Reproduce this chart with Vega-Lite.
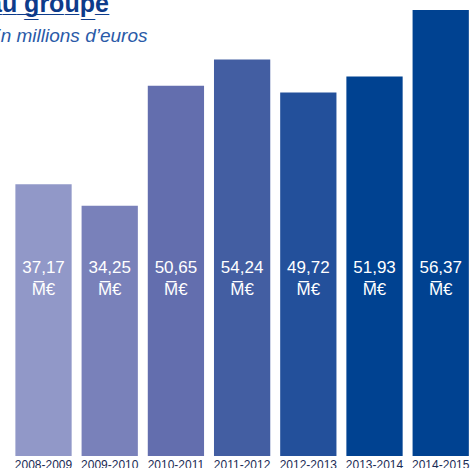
{
  "$schema": "https://vega.github.io/schema/vega-lite/v6.json",
  "width": 472,
  "height": 456,
  "autosize": {"type": "none"},
  "padding": {"left": 0, "top": 0, "right": 0, "bottom": 12},
  "background": "white",
  "title": {
    "text": "a̲u̲ ̲g̲r̲o̲u̲p̲e̲",
    "subtitle": "En millions d’euros",
    "anchor": "start",
    "frame": "group",
    "offset": -46,
    "dx": -12,
    "font": "Liberation Sans",
    "fontSize": 25,
    "fontWeight": "bold",
    "color": "#0d3b8a",
    "subtitleFont": "Liberation Sans",
    "subtitleFontSize": 19,
    "subtitleFontStyle": "italic",
    "subtitleColor": "#2a5aa8",
    "subtitlePadding": 10
  },
  "config": {
    "view": {"stroke": null},
    "locale": {"number": {"decimal": ",", "thousands": " ", "grouping": [3], "currency": ["", " €"]}}
  },
  "data": {
    "values": [
      {"periode": "2008-2009", "valeur": 37.17, "barre": 37.17},
      {"periode": "2009-2010", "valeur": 34.25, "barre": 34.25},
      {"periode": "2010-2011", "valeur": 50.65, "barre": 50.65},
      {"periode": "2011-2012", "valeur": 54.24, "barre": 54.24},
      {"periode": "2012-2013", "valeur": 49.72, "barre": 49.72},
      {"periode": "2013-2014", "valeur": 51.93, "barre": 51.93},
      {"periode": "2014-2015", "valeur": 56.37, "barre": 61.0}
    ]
  },
  "encoding": {
    "x": {
      "field": "periode",
      "type": "nominal",
      "sort": null,
      "scale": {"paddingInner": 0.15, "paddingOuter": 0.14, "align": 0.83},
      "axis": {
        "title": null,
        "domain": false,
        "ticks": false,
        "labelAngle": 0,
        "labelFont": "Liberation Sans",
        "labelFontSize": 12,
        "labelColor": "#1a2b55",
        "labelPadding": 3
      }
    }
  },
  "layer": [
    {
      "mark": {"type": "bar"},
      "encoding": {
        "y": {"field": "barre", "type": "quantitative", "scale": {"domain": [0, 62.38], "nice": false}, "axis": null},
        "color": {
          "field": "periode",
          "type": "nominal",
          "scale": {"range": ["#9198c8", "#7981ba", "#636eae", "#435ea2", "#23509b", "#004291", "#004291"]},
          "legend": null
        }
      }
    },
    {
      "mark": {"type": "text", "color": "white", "font": "Liberation Sans", "fontSize": 17, "baseline": "alphabetic"},
      "encoding": {
        "y": {"datum": 25.03, "type": "quantitative", "scale": {"domain": [0, 62.38], "nice": false}},
        "text": {"field": "valeur", "type": "quantitative", "format": ".2f"}
      }
    },
    {
      "mark": {"type": "text", "color": "white", "font": "Liberation Sans", "fontSize": 17, "baseline": "alphabetic"},
      "encoding": {
        "y": {"datum": 22.02, "type": "quantitative", "scale": {"domain": [0, 62.38], "nice": false}},
        "text": {"value": "M̅€"}
      }
    }
  ]
}
